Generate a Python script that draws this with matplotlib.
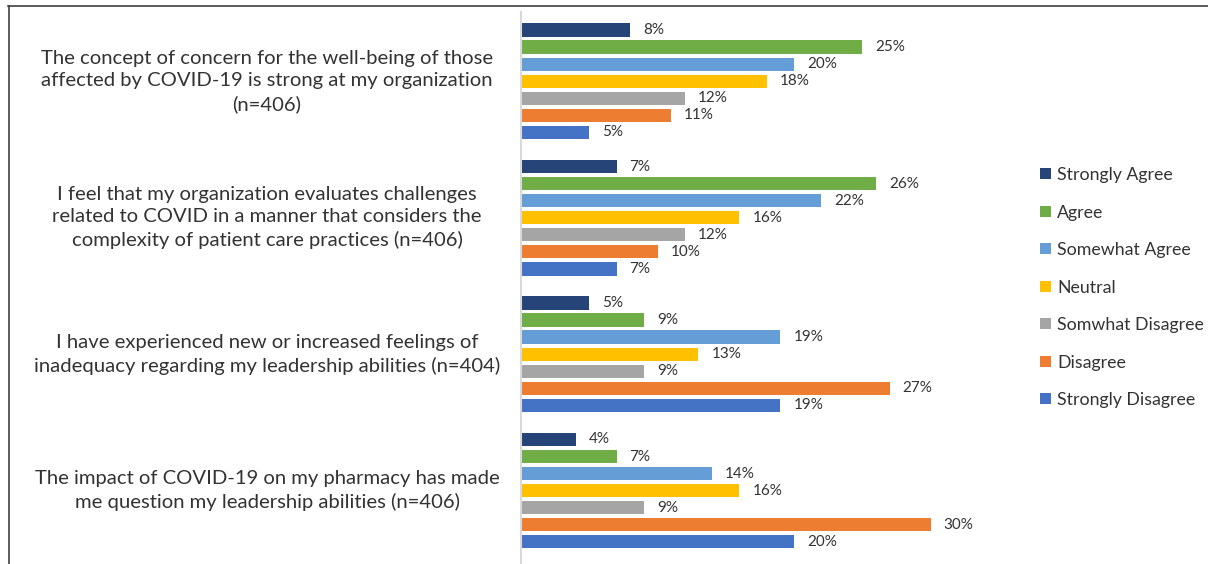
import matplotlib.pyplot as plt
from matplotlib.patches import Patch
from matplotlib.lines import Line2D

questions = [
    "The concept of concern for the well-being of those\naffected by COVID-19 is strong at my organization\n(n=406)",
    "I feel that my organization evaluates challenges\nrelated to COVID in a manner that considers the\ncomplexity of patient care practices (n=406)",
    "I have experienced new or increased feelings of\ninadequacy regarding my leadership abilities (n=404)",
    "The impact of COVID-19 on my pharmacy has made\nme question my leadership abilities (n=406)",
]
responses = [
    "Strongly Agree", "Agree", "Somewhat Agree", "Neutral",
    "Somwhat Disagree", "Disagree", "Strongly Disagree",
]
# percent per response, one list per question
percents = [
    [8, 25, 20, 18, 12, 11, 5],
    [7, 26, 22, 16, 12, 10, 7],
    [5, 9, 19, 13, 9, 27, 19],
    [4, 7, 14, 16, 9, 30, 20],
]
colors = ["#264478", "#70AD47", "#659ED6", "#FFC000", "#A5A5A5", "#ED7D31", "#4472C4"]

TXT = "#333333"
plt.rcParams["font.family"] = ["Lato", "DejaVu Sans"]

fig = plt.figure(figsize=(12.08, 5.64), dpi=100)
ax = fig.add_axes([521 / 1208, 0, (1000 - 521) / 1208, (564 - 12) / 564])

slot = 8
for g, vals in enumerate(percents):
    for i, v in enumerate(vals):
        y = g * slot + i
        ax.barh(y, v, height=0.78, color=colors[i])
        ax.text(v + 0.95, y, f"{v}%", va="center", ha="left",
                fontsize=11, color=TXT)
    ax.text(-18.6, g * slot + 3, questions[g], ha="center", va="center",
            fontsize=14.6, color=TXT, linespacing=1.38)

ax.set_xlim(0, 479 / 13.65)
ax.set_ylim(31.3, -1.06)
ax.set_xticks([])
ax.set_yticks([])
for s in ["top", "right", "bottom"]:
    ax.spines[s].set_visible(False)
ax.spines["left"].set_color("#D9D9D9")
ax.spines["left"].set_linewidth(1.5)

handles = [Patch(facecolor=c, label=r) for c, r in zip(colors, responses)]
fig.legend(handles=handles, loc="upper left", bbox_to_anchor=(1024 / 1208, 1 - 151 / 564),
           frameon=False, fontsize=12.8, labelcolor=TXT, handlelength=0.6,
           handleheight=0.6, handletextpad=0.35, labelspacing=1.21)

# outer frame edges
fig.add_artist(Line2D([8 / 1208, 1], [1 - 5.5 / 564, 1 - 5.5 / 564], color="#404040", lw=1.2))
fig.add_artist(Line2D([8.5 / 1208, 8.5 / 1208], [0, 1 - 5.5 / 564], color="#404040", lw=1.2))

fig.savefig("out.png", dpi=100)
